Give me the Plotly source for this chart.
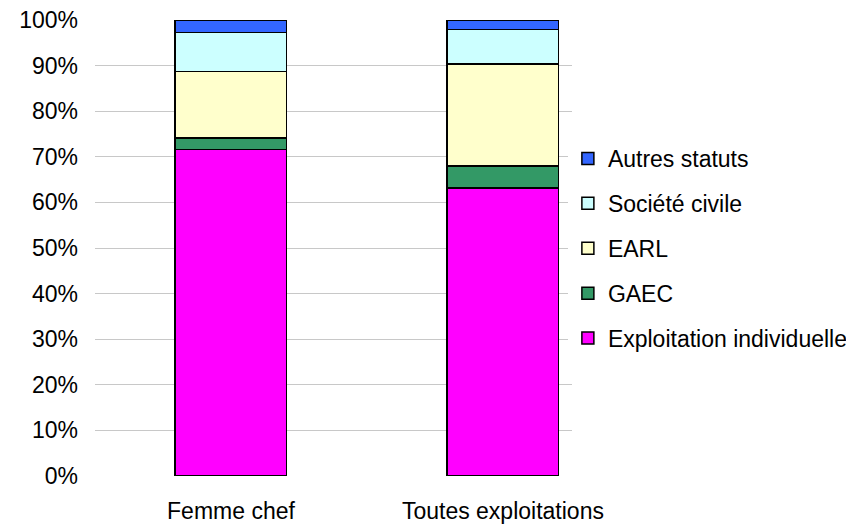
import plotly.graph_objects as go

categories = ["Femme chef", "Toutes exploitations"]
series_names = ["Exploitation individuelle", "GAEC", "EARL", "Société civile", "Autres statuts"]
indiv = [71.6, 63.2]
gaec = [2.5, 4.8]
earl = [14.6, 22.3]
societe = [8.6, 7.6]
autres = [2.7, 2.1]
colors = ["#FF00FF", "#339966", "#FFFFCC", "#CCFFFF", "#3366FF"]
values = [indiv, gaec, earl, societe, autres]
y_ticks = [0, 10, 20, 30, 40, 50, 60, 70, 80, 90, 100]
y_tick_labels = [f"{v}%" for v in y_ticks]

fig = go.Figure()
for i, (name, vals, col) in enumerate(zip(series_names, values, colors)):
    fig.add_trace(go.Bar(
        x=categories, y=vals, name=name, legendgroup=name,
        legendrank=1000 - i,
        marker=dict(color=col, line=dict(color="black", width=1.5)),
        width=0.41,
    ))

fig.update_layout(
    barmode="stack",
    width=854, height=524,
    margin=dict(l=87, r=290, t=12, b=56, autoexpand=False),
    paper_bgcolor="white", plot_bgcolor="white",
    font=dict(family="Liberation Sans, Arial", size=23, color="black"),
    legend=dict(
        xref="container", yref="container",
        x=0.6556, y=0.541, xanchor="left", yanchor="middle",
        traceorder="grouped", tracegroupgap=12,
        font=dict(size=23), itemwidth=30,
    ),
    xaxis=dict(range=[-0.5, 1.254], showline=False, ticks="", showgrid=False,
               ticklabelstandoff=19, automargin=False, ticklabeloverflow="allow"),
    yaxis=dict(range=[0, 100], tickvals=y_ticks, ticktext=y_tick_labels,
               showgrid=True, gridcolor="#C8C8C8", gridwidth=1, zeroline=False,
               showline=False, ticks="", ticklabelstandoff=16, automargin=False,
               ticklabeloverflow="allow"),
)

fig.write_html("out.html")
